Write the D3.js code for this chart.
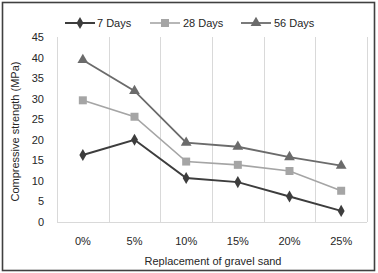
<!DOCTYPE html>
<html>
<head>
<meta charset="utf-8">
<script src="https://cdn.jsdelivr.net/npm/d3@7"></script>
<style>
  body { margin: 0; background: #fff; }
  text { font-family: "Liberation Sans", Arial, sans-serif; fill: #262626; }
</style>
</head>
<body>
<div id="chart"></div>
<script>
var categories = ["0%", "5%", "10%", "15%", "20%", "25%"];
var days7 = [16.3, 20.0, 10.7, 9.7, 6.2, 2.7];
var days28 = [29.6, 25.6, 14.7, 13.9, 12.4, 7.6];
var days56 = [39.4, 31.9, 19.3, 18.3, 15.8, 13.7];
var yTicks = [0, 5, 10, 15, 20, 25, 30, 35, 40, 45];

var seriesList = [
  { name: "7 Days", values: days7, color: "#3d3d3d", symbol: d3.symbolDiamond, size: 42, width: 2 },
  { name: "28 Days", values: days28, color: "#a5a5a5", symbol: d3.symbolSquare, size: 64, width: 1.6 },
  { name: "56 Days", values: days56, color: "#6b6b6b", symbol: d3.symbolTriangle, size: 50, width: 1.8 }
];

function init() {
  var w = 378, h = 273;
  var margin = { left: 57, right: 11, top: 37, bottom: 51 };

  var svg = d3.select("#chart").append("svg")
    .attr("width", w)
    .attr("height", h);

  // outer frame
  svg.append("rect")
    .attr("x", 2.5).attr("y", 2.5)
    .attr("width", 372).attr("height", 268)
    .attr("fill", "none")
    .attr("stroke", "#404040")
    .attr("stroke-width", 1.6);

  var x = d3.scaleBand()
    .domain(categories)
    .range([margin.left, w - margin.right]);

  var y = d3.scaleLinear()
    .domain([0, 45])
    .range([h - margin.bottom, margin.top]);

  // vertical gridlines at category boundaries
  var bounds = categories.map(function(c) { return x(c); });
  bounds.push(x(categories[categories.length - 1]) + x.bandwidth());
  svg.selectAll(".grid")
    .data(bounds)
    .enter()
    .append("line")
    .attr("x1", function(d) { return Math.round(d) + 0.5; })
    .attr("x2", function(d) { return Math.round(d) + 0.5; })
    .attr("y1", y(45))
    .attr("y2", y(0))
    .attr("stroke", "#d9d9d9")
    .attr("stroke-width", 1);

  svg.append("line")
    .attr("x1", margin.left).attr("x2", w - margin.right)
    .attr("y1", y(0) + 0.5).attr("y2", y(0) + 0.5)
    .attr("stroke", "#d9d9d9");

  // y axis labels
  var yAxis = d3.axisLeft(y).tickValues(yTicks).tickSize(0).tickPadding(0);
  var gy = svg.append("g").attr("transform", "translate(" + (margin.left - 13) + ",0)").call(yAxis);
  gy.select(".domain").remove();
  gy.selectAll("text").style("font-size", "11px").attr("fill", "#262626");

  // x axis labels
  var xAxis = d3.axisBottom(x).tickSize(0).tickPadding(0);
  var gx = svg.append("g").attr("transform", "translate(0," + (y(0) + 15) + ")").call(xAxis);
  gx.select(".domain").remove();
  gx.selectAll("text").style("font-size", "11px").attr("fill", "#262626");

  // axis titles
  svg.append("text")
    .attr("x", (margin.left + w - margin.right) / 2 + 1)
    .attr("y", 265)
    .attr("text-anchor", "middle")
    .style("font-size", "11px")
    .text("Replacement of gravel sand");

  svg.append("text")
    .attr("transform", "translate(19," + (y(22.5) + 2) + ") rotate(-90)")
    .attr("text-anchor", "middle")
    .style("font-size", "11px")
    .text("Compressive strength (MPa)");

  var line = d3.line()
    .x(function(d, i) { return x(categories[i]) + x.bandwidth() / 2; })
    .y(function(d) { return y(d); });

  seriesList.forEach(function(s) {
    svg.append("path")
      .datum(s.values)
      .attr("fill", "none")
      .attr("stroke", s.color)
      .attr("stroke-width", s.width)
      .attr("d", line);

    svg.selectAll(".m" + s.name.replace(" ", ""))
      .data(s.values)
      .enter()
      .append("path")
      .attr("d", d3.symbol().type(s.symbol).size(s.size))
      .attr("transform", function(d, i) {
        return "translate(" + (x(categories[i]) + x.bandwidth() / 2) + "," + y(d) + ")";
      })
      .attr("fill", s.color);
  });

  // legend
  var legendX = [65, 150, 241];
  var legend = svg.selectAll(".legend")
    .data(seriesList)
    .enter()
    .append("g")
    .attr("transform", function(d, i) { return "translate(" + legendX[i] + ",23)"; });

  legend.append("line")
    .attr("x1", 0).attr("x2", 30)
    .attr("y1", 0).attr("y2", 0)
    .attr("stroke", function(d) { return d.color; })
    .attr("stroke-width", function(d) { return d.width; });

  legend.append("path")
    .attr("d", function(d) { return d3.symbol().type(d.symbol).size(d.size)(); })
    .attr("transform", "translate(15,0)")
    .attr("fill", function(d) { return d.color; });

  legend.append("text")
    .attr("x", function(d, i) { return i === 0 ? 32 : 33; })
    .attr("y", 4)
    .style("font-size", "11px")
    .text(function(d) { return d.name; });
}

window.onload = init;
</script>
</body>
</html>
